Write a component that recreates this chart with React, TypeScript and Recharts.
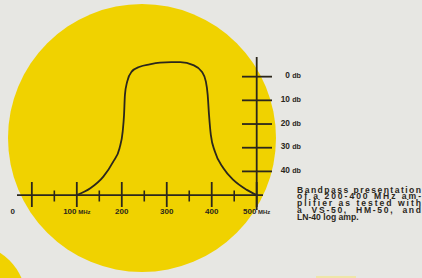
import React from 'react';
import { ComposedChart, Line, XAxis, YAxis, ReferenceLine } from 'recharts';

const freqMHz = [100, 130, 159, 181, 195, 202, 205, 207, 212, 222, 240, 262, 285, 310, 330, 359, 378, 387, 391, 394, 398, 407, 426, 448, 478, 500];
const attenuationDb = [50, 47.1, 42.2, 35.9, 30.2, 23.2, 16.2, 7.7, 2.1, -2.1, -4.2, -5.2, -5.9, -6.1, -6.1, -4.9, -2.1, 2.1, 7.7, 16.2, 24.6, 31.6, 38.7, 43.6, 47.8, 50];

const freqTicks = [0, 50, 100, 150, 200, 250, 300, 350, 400, 450, 500];
const labelledFreqs = [0, 100, 200, 300, 400, 500];
const unitFreqs = [100, 500];
const dbTicks = [0, 10, 20, 30, 40];
const baseDb = 50;
const caption = [
  'Bandpass presentation',
  'of a 200-400 MHz am-',
  'plifier as tested with',
  'a  VS-50,  HM-50,  and',
  'LN-40 log amp.',
];

const data = freqMHz.map((f, i) => ({ f, db: attenuationDb[i] }));

const INK = '#2b271c';
const YELLOW = '#f0d200';
const PAPER = '#e7e7e3';
const FONT = '"Liberation Sans", Arial, sans-serif';

const FreqTick = (props: any) => {
  const { x, y, payload } = props;
  const v = payload.value;
  const major = labelledFreqs.includes(v);
  if (!major) {
    return <line x1={x} x2={x} y1={y - 19.5} y2={y - 8.5} stroke={INK} strokeWidth={1.6} />;
  }
  return (
    <g>
      <line x1={x} x2={x} y1={y - 28} y2={y - 3} stroke={INK} strokeWidth={1.8} />
      <text
        x={v === 0 ? x - 19 : x}
        y={y + 3.5}
        textAnchor="middle"
        fill={INK}
        fontFamily={FONT}
        fontWeight="bold"
        fontSize={8}
      >
        {v}
        {unitFreqs.includes(v) && <tspan fontSize={6}> MHz</tspan>}
      </text>
    </g>
  );
};

const DbTick = (props: any) => {
  const { x, y, payload } = props;
  return (
    <g>
      <line x1={x - 21} x2={x + 9} y1={y} y2={y} stroke={INK} strokeWidth={1.8} />
      <text
        x={x + 38}
        y={y + 1.5}
        textAnchor="end"
        fill={INK}
        fontFamily={FONT}
        fontWeight="bold"
        fontSize={8.3}
      >
        {payload.value} <tspan fontSize={7.2}>db</tspan>
      </text>
    </g>
  );
};

export default function App() {
  return (
    <div
      style={{
        position: 'absolute',
        left: 0,
        top: 0,
        width: 422,
        height: 278,
        overflow: 'hidden',
        background: PAPER,
      }}
    >
      <svg width={422} height={278} style={{ position: 'absolute', left: 0, top: 0 }}>
        <circle cx={142} cy={138} r={134} fill={YELLOW} />
        <circle cx={-30} cy={300} r={56} fill={YELLOW} />
        <rect x={316} y={276} width={40} height={4} fill="#efe6a8" />
        {caption.map((line, i) => (
          <text
            key={i}
            x={297}
            y={192.5 + i * 6.9}
            fill={INK}
            fontFamily={FONT}
            fontWeight="bold"
            fontSize={8.6}
            textLength={i < caption.length - 1 ? 124 : undefined}
            lengthAdjust="spacing"
            style={{ whiteSpace: 'pre' }}
          >
            {line}
          </text>
        ))}
      </svg>
      <div style={{ position: 'absolute', left: 0, top: 0 }}>
        <ComposedChart
          width={422}
          height={278}
          data={data}
          margin={{ top: 57, right: 158, bottom: 67, left: 17 }}
        >
          <XAxis
            dataKey="f"
            type="number"
            domain={[-33, 514]}
            ticks={freqTicks}
            interval={0}
            height={1}
            axisLine={false}
            tickLine={false}
            tickSize={0}
            tickMargin={0}
            tick={<FreqTick />}
            allowDataOverflow
          />
          <YAxis
            orientation="right"
            type="number"
            domain={[-8.3, 56.3]}
            reversed
            ticks={dbTicks}
            interval={0}
            width={1}
            axisLine={false}
            tickLine={false}
            tickSize={0}
            tickMargin={0}
            tick={<DbTick />}
            allowDataOverflow
          />
          <ReferenceLine y={baseDb} stroke={INK} strokeWidth={1.8} />
          <ReferenceLine x={500} stroke={INK} strokeWidth={1.8} />
          <Line
            dataKey="db"
            type="monotone"
            stroke={INK}
            strokeWidth={1.8}
            dot={false}
            isAnimationActive={false}
          />
        </ComposedChart>
      </div>
    </div>
  );
}
